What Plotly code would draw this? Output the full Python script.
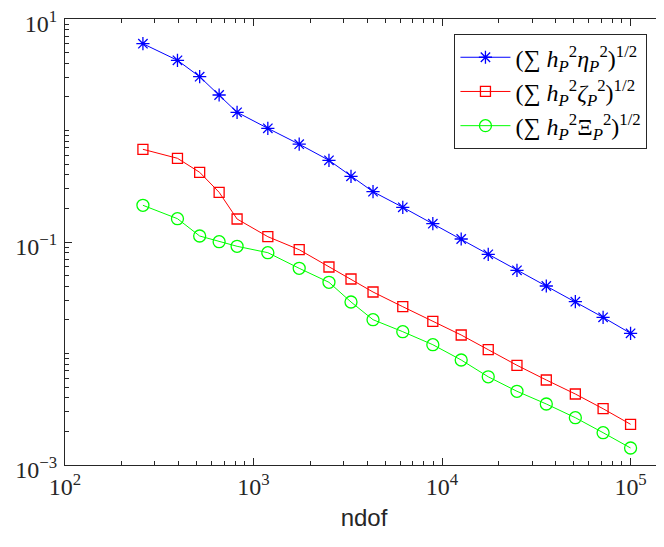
import numpy as np
import plotly.graph_objects as go

# number of degrees of freedom per refinement step
ndof = [259, 395, 518, 657, 818, 1191, 1747, 2513, 3289, 4304, 6190,
        8935, 12636, 17580, 24970, 35730, 50940, 71500, 100000]

# error estimators
eta = [6.003, 4.262, 3.037, 2.082, 1.456, 1.046, 0.7536, 0.5403, 0.3883,
       0.2826, 0.2048, 0.1459, 0.1064, 0.07757, 0.05577, 0.04030, 0.02914,
       0.02112, 0.01518]
zeta = [0.6783, 0.5632, 0.4218, 0.2791, 0.1608, 0.1116, 0.0853, 0.05969,
        0.04659, 0.03560, 0.02628, 0.01945, 0.01465, 0.01082, 0.007837,
        0.005785, 0.004332, 0.003197, 0.002317]
xi = [0.2134, 0.1618, 0.1132, 0.1006, 0.0915, 0.0802, 0.05808, 0.04351,
      0.02897, 0.02010, 0.01569, 0.01199, 0.008745, 0.006180, 0.004581,
      0.003525, 0.002656, 0.001949, 0.001421]

names = ['(∑ <i>h</i><sub><i>P</i></sub><sup>2</sup><i>η</i><sub><i>P</i></sub><sup>2</sup>)<sup>1/2</sup>',
         '(∑ <i>h</i><sub><i>P</i></sub><sup>2</sup><i>ζ</i><sub><i>P</i></sub><sup>2</sup>)<sup>1/2</sup>',
         '(∑ <i>h</i><sub><i>P</i></sub><sup>2</sup>Ξ<sub><i>P</i></sub><sup>2</sup>)<sup>1/2</sup>']

xticks = [1e2, 1e3, 1e4, 1e5]
xticklabels = ['10<sup>2</sup>', '10<sup>3</sup>', '10<sup>4</sup>', '10<sup>5</sup>']
yticks = [1e-3, 1e-1, 1e1]
yticklabels = ['10<sup>−3</sup>', '10<sup>−1</sup>', '10<sup>1</sup>']

axcol = '#262626'
serif = 'Liberation Serif, DejaVu Serif, serif'

fig = go.Figure()
fig.add_trace(go.Scatter(x=ndof, y=eta, name=names[0], mode='lines+markers',
                         line=dict(color='#0000ff', width=1),
                         marker=dict(symbol='asterisk-open', size=11,
                                     line=dict(color='#0000ff', width=1.3))))
fig.add_trace(go.Scatter(x=ndof, y=zeta, name=names[1], mode='lines+markers',
                         line=dict(color='#ff0000', width=1),
                         marker=dict(symbol='square-open', size=10,
                                     line=dict(color='#ff0000', width=1.3))))
fig.add_trace(go.Scatter(x=ndof, y=xi, name=names[2], mode='lines+markers',
                         line=dict(color='#00ff00', width=1),
                         marker=dict(symbol='circle-open', size=12,
                                     line=dict(color='#00ff00', width=1.3))))

def minor_vals(lo, hi, skip_decades=()):
    vals = []
    for k in range(lo, hi):
        for d in range(1, 10):
            if d == 1 and k not in skip_decades:
                continue
            vals.append(d * 10.0 ** k)
    return vals

# page body has an 8px margin, so the margins are shifted to compensate
fig.update_layout(
    width=664, height=547,
    margin=dict(l=57, r=9, t=11, b=90),
    paper_bgcolor='white', plot_bgcolor='white',
    showlegend=True,
    legend=dict(x=0.974, y=0.966, xanchor='right', yanchor='top',
                bordercolor=axcol, borderwidth=1, bgcolor='white',
                font=dict(family=serif, size=24, color='black'),
                tracegroupgap=0, itemwidth=50),
)
fig.update_xaxes(
    type='log', range=[2, np.log10(148600)], automargin=False,
    tickmode='array', tickvals=xticks, ticktext=xticklabels,
    ticks='inside', ticklen=7, tickcolor=axcol, ticklabeloverflow='allow',
    showline=True, linecolor=axcol, linewidth=1.3, mirror='ticks',
    showgrid=False, zeroline=False,
    tickfont=dict(family=serif, size=24, color=axcol),
    minor=dict(tickmode='array', tickvals=minor_vals(2, 6),
               ticks='inside', ticklen=4, tickcolor=axcol, showgrid=False),
    title=dict(text='ndof', font=dict(family='Liberation Sans, Arial', size=24, color=axcol),
               standoff=10),
)
fig.update_yaxes(
    type='log', range=[-3, 1], automargin=False,
    tickmode='array', tickvals=yticks, ticktext=yticklabels,
    ticks='inside', ticklen=7, tickcolor=axcol, ticklabeloverflow='allow',
    ticklabelshift=5, ticklabelstandoff=2,
    showline=True, linecolor=axcol, linewidth=1.3, mirror='ticks',
    showgrid=False, zeroline=False,
    tickfont=dict(family=serif, size=24, color=axcol),
    minor=dict(tickmode='array', tickvals=minor_vals(-3, 1, skip_decades=(-2, 0)),
               ticks='inside', ticklen=4, tickcolor=axcol, showgrid=False),
)

fig.write_html("out.html")
